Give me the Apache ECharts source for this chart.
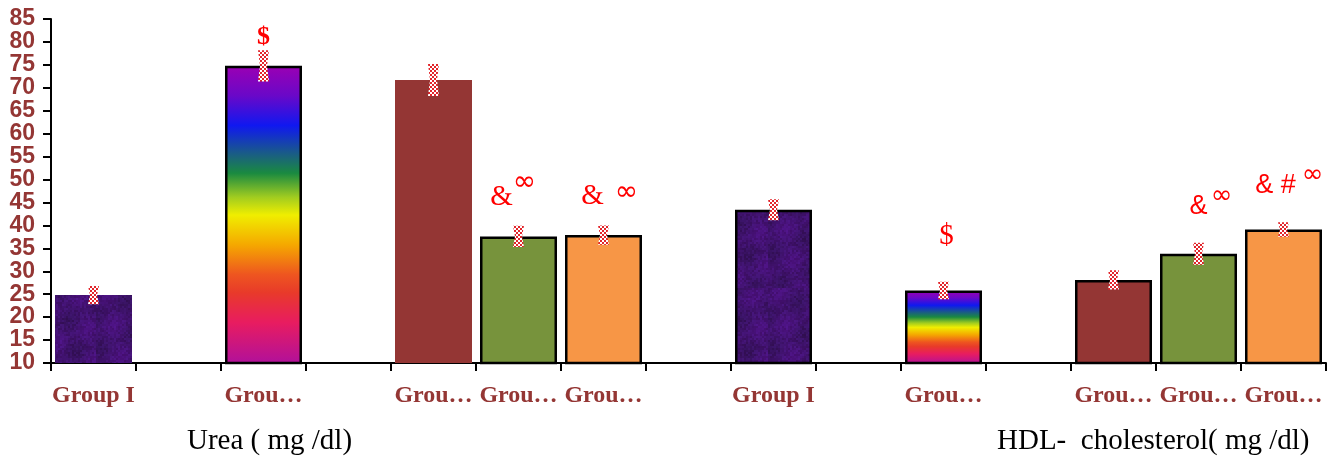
<!DOCTYPE html>
<html><head><meta charset="utf-8">
<script src="https://cdn.jsdelivr.net/npm/echarts@6/dist/echarts.min.js"></script>
<style>html,body{margin:0;padding:0;background:#fff}#c{width:1336px;height:466px}</style>
</head><body><div id="c"></div>
<script>
// ---- data ----
const categories = ['Group I','','Group II','','Group III','Group IV','Group V','','Group I','','Group II','','Group III','Group IV','Group V'];
const ureaSlots = [0, 2, 4, 5, 6];
const hdlSlots = [8, 10, 12, 13, 14];
const ureaValues = [24.8, 74.8, 71.7, 37.6, 37.9];
const hdlValues = [43.4, 25.8, 28.1, 33.8, 39.1];
const ureaErrors = [2.0, 3.4, 3.5, 2.3, 2.1];
const hdlErrors = [2.3, 1.9, 2.1, 2.4, 1.6];
const ureaMarks = ['', '$', '', '&', '&'];
const ureaSups = ['', '', '', '∞', '∞'];
const ureaMarkY = [null, 81.1, null, 46.2, 46.4];
const hdlMarks = ['', '$', '', '&', '& #'];
const hdlSups = ['', '', '', '∞', '∞'];
const hdlMarkY = [null, 37.7, null, 44.2, 48.6];
const yTicks = {min: 10, max: 85, interval: 5};
const titles = ['Urea ( mg /dl)', 'HDL-  cholesterol( mg /dl)'];

// ---- styles ----
const RED = '#943634';
function texture() {
  const c = document.createElement('canvas'); c.width = c.height = 96;
  const g = c.getContext('2d');
  g.fillStyle = '#43156f'; g.fillRect(0, 0, 96, 96);
  for (let y = 0; y < 96; y += 2) for (let x = 0; x < 96; x += 2) {
    const h = Math.sin(x * 12.9898 + y * 78.233) * 43758.5453;
    const f = h - Math.floor(h);
    const s = Math.sin(x * 0.13 + y * 0.07) * Math.cos(y * 0.11 - x * 0.05);
    const r = 58 + Math.round(f * 14 + s * 10), gg = 14 + Math.round(f * 8), b = 96 + Math.round(f * 30 + s * 16);
    g.fillStyle = 'rgb(' + r + ',' + gg + ',' + b + ')'; g.fillRect(x, y, 2, 2);
  }
  return c;
}
function checker() {
  const c = document.createElement('canvas'); c.width = c.height = 4;
  const g = c.getContext('2d');
  g.fillStyle = '#ffffff'; g.fillRect(0, 0, 4, 4);
  g.fillStyle = '#e2252b'; g.fillRect(0, 0, 2, 2); g.fillRect(2, 2, 2, 2);
  return c;
}
const rainbow = new echarts.graphic.LinearGradient(0, 0, 0, 1, [
  {offset: 0, color: '#9b00b3'}, {offset: 0.1, color: '#6a08c8'}, {offset: 0.2, color: '#1018f0'},
  {offset: 0.3, color: '#1a6080'}, {offset: 0.36, color: '#1a8a40'}, {offset: 0.44, color: '#a0cc20'},
  {offset: 0.5, color: '#f0ee00'}, {offset: 0.6, color: '#f5a800'}, {offset: 0.7, color: '#ee5520'},
  {offset: 0.76, color: '#e83a2a'}, {offset: 0.86, color: '#e81c60'}, {offset: 1, color: '#b0109c'}
]);
const fills = [{image: texture(), repeat: 'repeat'}, rainbow, '#943634', '#77933c', '#f79646'];
const borders = [[0, 2.5, 0, 2.5, 2.5], [2.5, 2.5, 2.5, 2.5, 2.5]];
const checkerFill = {image: checker(), repeat: 'repeat'};
// offsets of annotation glyphs [dx main, dx sup, dy sup]
const markOffsets = [[null, [0, 0, 0], null, [-17, 6, -14], [-11, 23, -3]], [null, [3, 0, 0], null, [0, 23, -10], [-8, 29, -11]]];
const markFonts = [
  {main: '29px "Liberation Serif"', dollar: 'bold 26px "Liberation Serif"', sup: '28px "DejaVu Sans"'},
  {main: '27px "Liberation Sans"', dollar: '29px "Liberation Serif"', sup: '26px "DejaVu Sans"'}
];

// ---- build ----
const sets = [
  {slots: ureaSlots, values: ureaValues, errors: ureaErrors, marks: ureaMarks, sups: ureaSups, markY: ureaMarkY},
  {slots: hdlSlots, values: hdlValues, errors: hdlErrors, marks: hdlMarks, sups: hdlSups, markY: hdlMarkY}
];
const barData = categories.map(() => null);
const errData = [];
const errMeta = [];
sets.forEach((s, si) => {
  s.slots.forEach((slot, gi) => {
    const bw = borders[si][gi];
    barData[slot] = {value: s.values[gi], itemStyle: {color: fills[gi], borderColor: '#000', borderWidth: bw}};
    errData.push([slot, s.values[gi], s.errors[gi]]);
    errMeta.push({si, gi, mark: s.marks[gi], sup: s.sups[gi], my: s.markY[gi]});
  });
});

const chart = echarts.init(document.getElementById('c'), null, {renderer: 'canvas'});
chart.setOption({
  animation: false,
  grid: {left: 51, right: 10, top: 19, bottom: 103},
  xAxis: {
    type: 'category', data: categories,
    axisLine: {lineStyle: {color: '#000', width: 2}},
    axisTick: {show: true, interval: 0, length: 8, lineStyle: {color: '#000', width: 2}},
    axisLabel: {interval: 0, color: RED, fontFamily: 'Liberation Serif', fontWeight: 'bold', fontSize: 24, margin: 21, width: 84, overflow: 'truncate', ellipsis: '…'}
  },
  yAxis: {
    type: 'value', min: yTicks.min, max: yTicks.max, interval: yTicks.interval,
    splitLine: {show: false},
    axisLine: {show: true, lineStyle: {color: '#000', width: 2}},
    axisTick: {show: true, length: 8, lineStyle: {color: '#000', width: 2}},
    axisLabel: {color: RED, fontFamily: 'Liberation Sans', fontWeight: 'bold', fontSize: 23, margin: 16}
  },
  graphic: [
    {type: 'text', left: 187, top: 427, style: {text: titles[0], font: '29px "Liberation Serif"', fill: '#000'}},
    {type: 'text', left: 997, top: 427, style: {text: titles[1], font: '29px "Liberation Serif"', fill: '#000'}}
  ],
  series: [
    {type: 'bar', data: barData, barWidth: 77, clip: true},
    {
      type: 'custom', data: errData, z: 5, clip: false,
      renderItem(params, api) {
        const slot = api.value(0), v = api.value(1), e = api.value(2);
        const top = api.coord([slot, v + e]), bot = api.coord([slot, v - e]);
        const x = top[0], w = 5.5, n = 3.5, mid = (top[1] + bot[1]) / 2;
        const children = [{
          type: 'polygon',
          shape: {points: [[x - w, top[1]], [x + w, top[1]], [x + n, mid], [x + w, bot[1]], [x - w, bot[1]], [x - n, mid]]},
          style: {fill: checkerFill, stroke: null}
        }];
        const m = errMeta[params.dataIndex];
        if (m.mark) {
          const off = markOffsets[m.si][m.gi];
          const p = api.coord([slot, m.my]);
          const fonts = markFonts[m.si];
          children.push({type: 'text', x: p[0] + off[0], y: p[1], style: {text: m.mark, font: m.mark === '$' ? fonts.dollar : fonts.main, fill: '#ff0000', align: 'center', verticalAlign: 'middle'}});
          if (m.sup) children.push({type: 'text', x: p[0] + off[1], y: p[1] + off[2], style: {text: m.sup, font: fonts.sup, fill: '#ff0000', align: 'center', verticalAlign: 'middle'}});
        }
        return {type: 'group', children};
      }
    }
  ]
});
</script>
</body></html>
